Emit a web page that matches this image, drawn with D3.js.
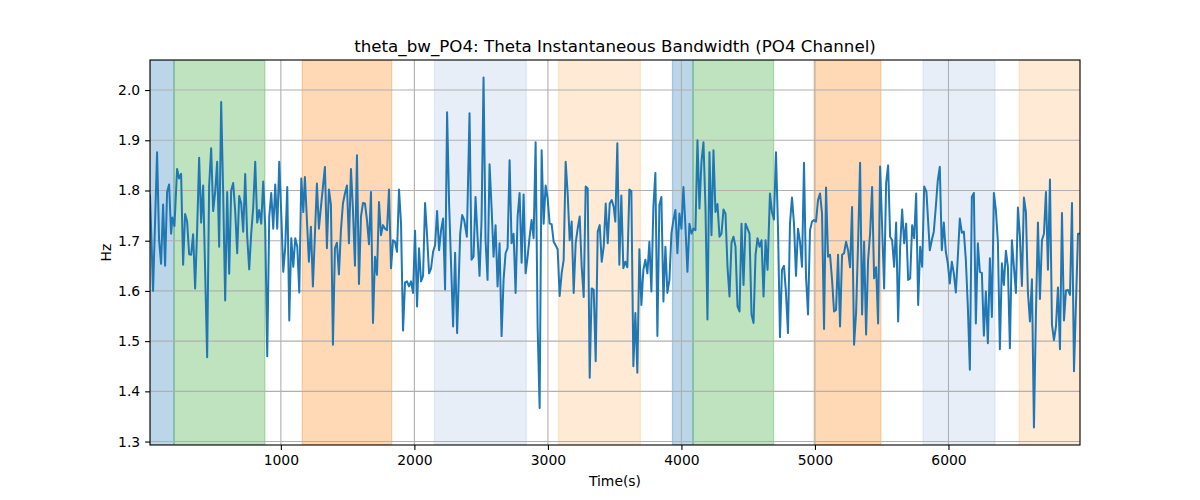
<!DOCTYPE html>
<html>
<head>
<meta charset="utf-8">
<script src="https://cdn.jsdelivr.net/npm/d3@7"></script>
<style>
body { margin: 0; background: #fff; }
svg { font-family: "DejaVu Sans", sans-serif; }
</style>
</head>
<body>
<svg width="1200" height="500"></svg>
<script>
// sample times (s) and bandwidth (Hz)
var times = [20,43,73,88,103,118,133,148,163,178,188,203,223,238,253,268,283,298,313,328,343,358,373,388,403,418,448,463,478,493,508,523,538,553,568,583,598,613,628,643,658,673,688,703,718,733,748,763,778,793,808,823,838,853,868,883,898,913,928,943,958,973,988,1003,1018,1033,1048,1063,1078,1093,1108,1123,1138,1153,1168,1180,1210,1225,1240,1270,1285,1300,1330,1345,1360,1375,1390,1405,1420,1435,1450,1465,1480,1495,1510,1525,1540,1555,1570,1585,1600,1615,1630,1645,1660,1675,1690,1705,1720,1735,1750,1765,1780,1795,1810,1825,1840,1855,1870,1885,1900,1915,1930,1945,1960,1975,1990,2005,2020,2035,2050,2065,2080,2095,2110,2125,2140,2155,2170,2185,2200,2215,2230,2245,2260,2290,2305,2320,2343,2358,2373,2393,2413,2428,2443,2458,2473,2488,2503,2518,2533,2548,2563,2578,2593,2608,2623,2638,2653,2668,2683,2698,2713,2728,2743,2758,2773,2788,2803,2818,2833,2848,2863,2878,2893,2908,2923,2938,2953,2968,2983,2998,3013,3028,3043,3058,3073,3088,3103,3118,3133,3148,3163,3178,3193,3208,3223,3238,3253,3268,3283,3298,3313,3328,3343,3358,3373,3388,3403,3418,3433,3448,3463,3478,3493,3505,3520,3535,3550,3565,3580,3595,3610,3625,3640,3655,3670,3685,3700,3715,3730,3745,3760,3775,3790,3805,3820,3835,3850,3865,3880,3895,3910,3925,3940,3955,3970,3985,4000,4015,4030,4045,4060,4075,4090,4105,4120,4135,4150,4165,4180,4195,4210,4225,4240,4255,4270,4285,4300,4315,4330,4345,4360,4375,4390,4405,4420,4435,4450,4465,4480,4495,4510,4525,4540,4555,4570,4585,4600,4615,4630,4645,4663,4678,4693,4708,4723,4738,4753,4768,4783,4798,4813,4828,4843,4858,4873,4888,4903,4918,4933,4948,4963,4978,4993,5008,5023,5038,5053,5068,5083,5098,5113,5128,5143,5158,5173,5188,5203,5218,5233,5248,5263,5278,5293,5308,5323,5338,5353,5368,5383,5398,5413,5428,5443,5458,5473,5488,5503,5518,5533,5548,5563,5578,5593,5608,5623,5638,5653,5668,5683,5698,5713,5728,5743,5758,5773,5788,5803,5818,5835,5860,5875,5890,5905,5920,5935,5950,5965,5980,5995,6010,6025,6040,6055,6070,6085,6100,6115,6130,6145,6160,6175,6190,6205,6220,6235,6250,6265,6280,6295,6310,6325,6340,6355,6370,6385,6400,6415,6430,6445,6460,6475,6490,6505,6520,6535,6550,6565,6580,6595,6610,6625,6640,6655,6670,6685,6700,6715,6730,6745,6760,6775,6790,6805,6820,6835,6850,6865,6880,6895,6910,6925,6940,6970,6985];
var values = [1.792,1.600,1.876,1.701,1.654,1.772,1.650,1.797,1.812,1.714,1.746,1.729,1.843,1.824,1.833,1.652,1.753,1.738,1.673,1.672,1.713,1.605,1.721,1.865,1.736,1.810,1.468,1.810,1.884,1.759,1.797,1.857,1.688,1.976,1.794,1.581,1.797,1.634,1.800,1.815,1.759,1.675,1.789,1.774,1.718,1.833,1.708,1.643,1.714,1.767,1.857,1.736,1.761,1.734,1.818,1.728,1.470,1.748,1.795,1.724,1.812,1.724,1.857,1.754,1.638,1.688,1.807,1.541,1.705,1.648,1.705,1.688,1.597,1.824,1.757,1.827,1.658,1.728,1.609,1.814,1.724,1.767,1.847,1.685,1.802,1.771,1.493,1.685,1.696,1.633,1.721,1.774,1.794,1.810,1.695,1.843,1.761,1.650,1.870,1.614,1.748,1.775,1.774,1.741,1.693,1.797,1.536,1.668,1.632,1.777,1.711,1.731,1.724,1.721,1.802,1.645,1.701,1.698,1.678,1.802,1.734,1.521,1.617,1.619,1.609,1.619,1.596,1.720,1.569,1.685,1.619,1.630,1.775,1.711,1.635,1.645,1.678,1.691,1.759,1.681,1.721,1.744,1.603,1.956,1.774,1.529,1.676,1.516,1.714,1.751,1.741,1.708,1.954,1.662,1.668,1.787,1.708,1.630,1.741,2.025,1.701,1.622,1.852,1.767,1.668,1.731,1.609,1.695,1.510,1.622,1.675,1.685,1.860,1.695,1.714,1.596,1.748,1.795,1.656,1.792,1.635,1.668,1.708,1.741,1.705,1.896,1.529,1.367,1.880,1.734,1.810,1.784,1.734,1.733,1.698,1.691,1.683,1.590,1.635,1.662,1.857,1.794,1.701,1.738,1.596,1.695,1.724,1.748,1.648,1.588,1.808,1.804,1.427,1.605,1.602,1.460,1.718,1.731,1.658,1.688,1.774,1.695,1.774,1.781,1.767,1.738,1.894,1.652,1.790,1.645,1.658,1.647,1.802,1.799,1.450,1.556,1.437,1.683,1.572,1.642,1.662,1.635,1.698,1.599,1.767,1.835,1.510,1.771,1.787,1.579,1.688,1.596,1.622,1.714,1.741,1.761,1.675,1.754,1.724,1.807,1.728,1.638,1.734,1.714,1.724,1.721,1.900,1.764,1.857,1.896,1.767,1.543,1.876,1.711,1.880,1.757,1.773,1.708,1.714,1.762,1.754,1.648,1.589,1.696,1.708,1.688,1.569,1.559,1.734,1.612,1.734,1.724,1.714,1.553,1.536,1.672,1.705,1.688,1.701,1.589,1.701,1.642,1.794,1.757,1.742,1.876,1.728,1.508,1.642,1.650,1.596,1.516,1.734,1.786,1.734,1.630,1.724,1.698,1.648,1.855,1.629,1.553,1.721,1.738,1.741,1.738,1.781,1.794,1.754,1.524,1.806,1.668,1.672,1.622,1.559,1.562,1.672,1.529,1.672,1.675,1.698,1.681,1.647,1.767,1.493,1.556,1.695,1.855,1.553,1.698,1.513,1.662,1.714,1.807,1.625,1.647,1.535,1.848,1.728,1.605,1.815,1.850,1.708,1.701,1.648,1.736,1.539,1.688,1.762,1.695,1.734,1.622,1.625,1.731,1.705,1.794,1.572,1.688,1.648,1.808,1.797,1.681,1.701,1.718,1.767,1.820,1.847,1.681,1.736,1.678,1.655,1.615,1.658,1.635,1.597,1.668,1.744,1.716,1.718,1.662,1.569,1.443,1.787,1.795,1.535,1.695,1.638,1.636,1.511,1.599,1.496,1.665,1.548,1.795,1.761,1.698,1.484,1.655,1.612,1.680,1.648,1.486,1.701,1.648,1.596,1.766,1.708,1.610,1.786,1.757,1.597,1.539,1.623,1.328,1.556,1.736,1.584,1.701,1.714,1.797,1.642,1.822,1.533,1.502,1.529,1.607,1.484,1.755,1.541,1.601,1.602,1.592,1.775,1.440,1.714,1.714];

// shaded stages
var spanStarts = [20, 200, 1160, 2150, 3080, 3933, 4087, 4993, 5810, 6530];
var spanEnds   = [200, 880, 1830, 2838, 3693, 4087, 4690, 5493, 6348, 6985];
var spanColors = ["#1f77b4", "#2ca02c", "#ff7f0e", "#aec7e8", "#ffbb78",
                  "#1f77b4", "#2ca02c", "#ff7f0e", "#aec7e8", "#ffbb78"];

var xTicks = [1000, 2000, 3000, 4000, 5000, 6000];
var yTicks = [1.3, 1.4, 1.5, 1.6, 1.7, 1.8, 1.9, 2.0];

var svg = d3.select("svg"),
    width = +svg.attr("width"),
    height = +svg.attr("height");

var margin = {top: 60, right: 120, bottom: 55, left: 150};

var x = d3.scaleLinear()
    .domain(d3.extent(times))
    .range([margin.left, width - margin.right]);

var yExt = d3.extent(values),
    pad = (yExt[1] - yExt[0]) * 0.05;

var y = d3.scaleLinear()
    .domain([yExt[0] - pad, yExt[1] + pad])
    .range([height - margin.bottom, margin.top]);

svg.append("clipPath")
    .attr("id", "plot")
  .append("rect")
    .attr("x", margin.left)
    .attr("y", margin.top)
    .attr("width", width - margin.left - margin.right)
    .attr("height", height - margin.top - margin.bottom);

var g = svg.append("g").attr("clip-path", "url(#plot)");

// spans
g.selectAll(".span")
    .data(spanStarts)
  .enter().append("rect")
    .attr("class", "span")
    .attr("x", d => x(d))
    .attr("width", (d, i) => x(spanEnds[i]) - x(d))
    .attr("y", margin.top)
    .attr("height", height - margin.top - margin.bottom)
    .attr("fill", (d, i) => spanColors[i])
    .attr("fill-opacity", 0.3)
    .attr("stroke", (d, i) => spanColors[i])
    .attr("stroke-opacity", 0.3)
    .attr("stroke-width", 1.3);

// grid
g.selectAll(".gx")
    .data(xTicks)
  .enter().append("line")
    .attr("x1", d => x(d)).attr("x2", d => x(d))
    .attr("y1", margin.top).attr("y2", height - margin.bottom)
    .attr("stroke", "#b0b0b0")
    .attr("stroke-width", 1.1);

g.selectAll(".gy")
    .data(yTicks)
  .enter().append("line")
    .attr("y1", d => y(d)).attr("y2", d => y(d))
    .attr("x1", margin.left).attr("x2", width - margin.right)
    .attr("stroke", "#b0b0b0")
    .attr("stroke-width", 1.1);

var line = d3.line()
    .x((d, i) => x(times[i]))
    .y(d => y(d));

g.append("path")
    .datum(values)
    .attr("d", line)
    .attr("fill", "none")
    .attr("stroke", "#1f77b4")
    .attr("stroke-width", 2)
    .attr("stroke-linejoin", "round");

// axes
var xAxis = d3.axisBottom(x)
    .tickValues(xTicks)
    .tickFormat(d3.format("d"))
    .tickSize(4.9)
    .tickPadding(4.9);

var yAxis = d3.axisLeft(y)
    .tickValues(yTicks)
    .tickFormat(d3.format(".1f"))
    .tickSize(4.9)
    .tickPadding(4.9);

var gX = svg.append("g")
    .attr("transform", "translate(0," + (height - margin.bottom) + ")")
    .call(xAxis);

var gY = svg.append("g")
    .attr("transform", "translate(" + margin.left + ",0)")
    .call(yAxis);

[gX, gY].forEach(a => {
    a.select(".domain").remove();
    a.selectAll("line").attr("stroke", "#000").attr("stroke-width", 1.1);
    a.selectAll("text")
        .attr("fill", "#000")
        .style("font-family", "DejaVu Sans")
        .style("font-size", "13.9px");
});

svg.append("rect")
    .attr("x", margin.left)
    .attr("y", margin.top)
    .attr("width", width - margin.left - margin.right)
    .attr("height", height - margin.top - margin.bottom)
    .attr("fill", "none")
    .attr("stroke", "#000")
    .attr("stroke-width", 1.1);

svg.append("text")
    .attr("x", (margin.left + width - margin.right) / 2)
    .attr("y", margin.top - 8.5)
    .attr("text-anchor", "middle")
    .style("font-size", "16.7px")
    .text("theta_bw_PO4: Theta Instantaneous Bandwidth (PO4 Channel)");

svg.append("text")
    .attr("x", (margin.left + width - margin.right) / 2)
    .attr("y", 486)
    .attr("text-anchor", "middle")
    .style("font-size", "13.9px")
    .text("Time(s)");

svg.append("text")
    .attr("transform", "translate(111," + ((margin.top + height - margin.bottom) / 2) + ") rotate(-90)")
    .attr("text-anchor", "middle")
    .style("font-size", "13.9px")
    .text("Hz");
</script>
</body>
</html>
